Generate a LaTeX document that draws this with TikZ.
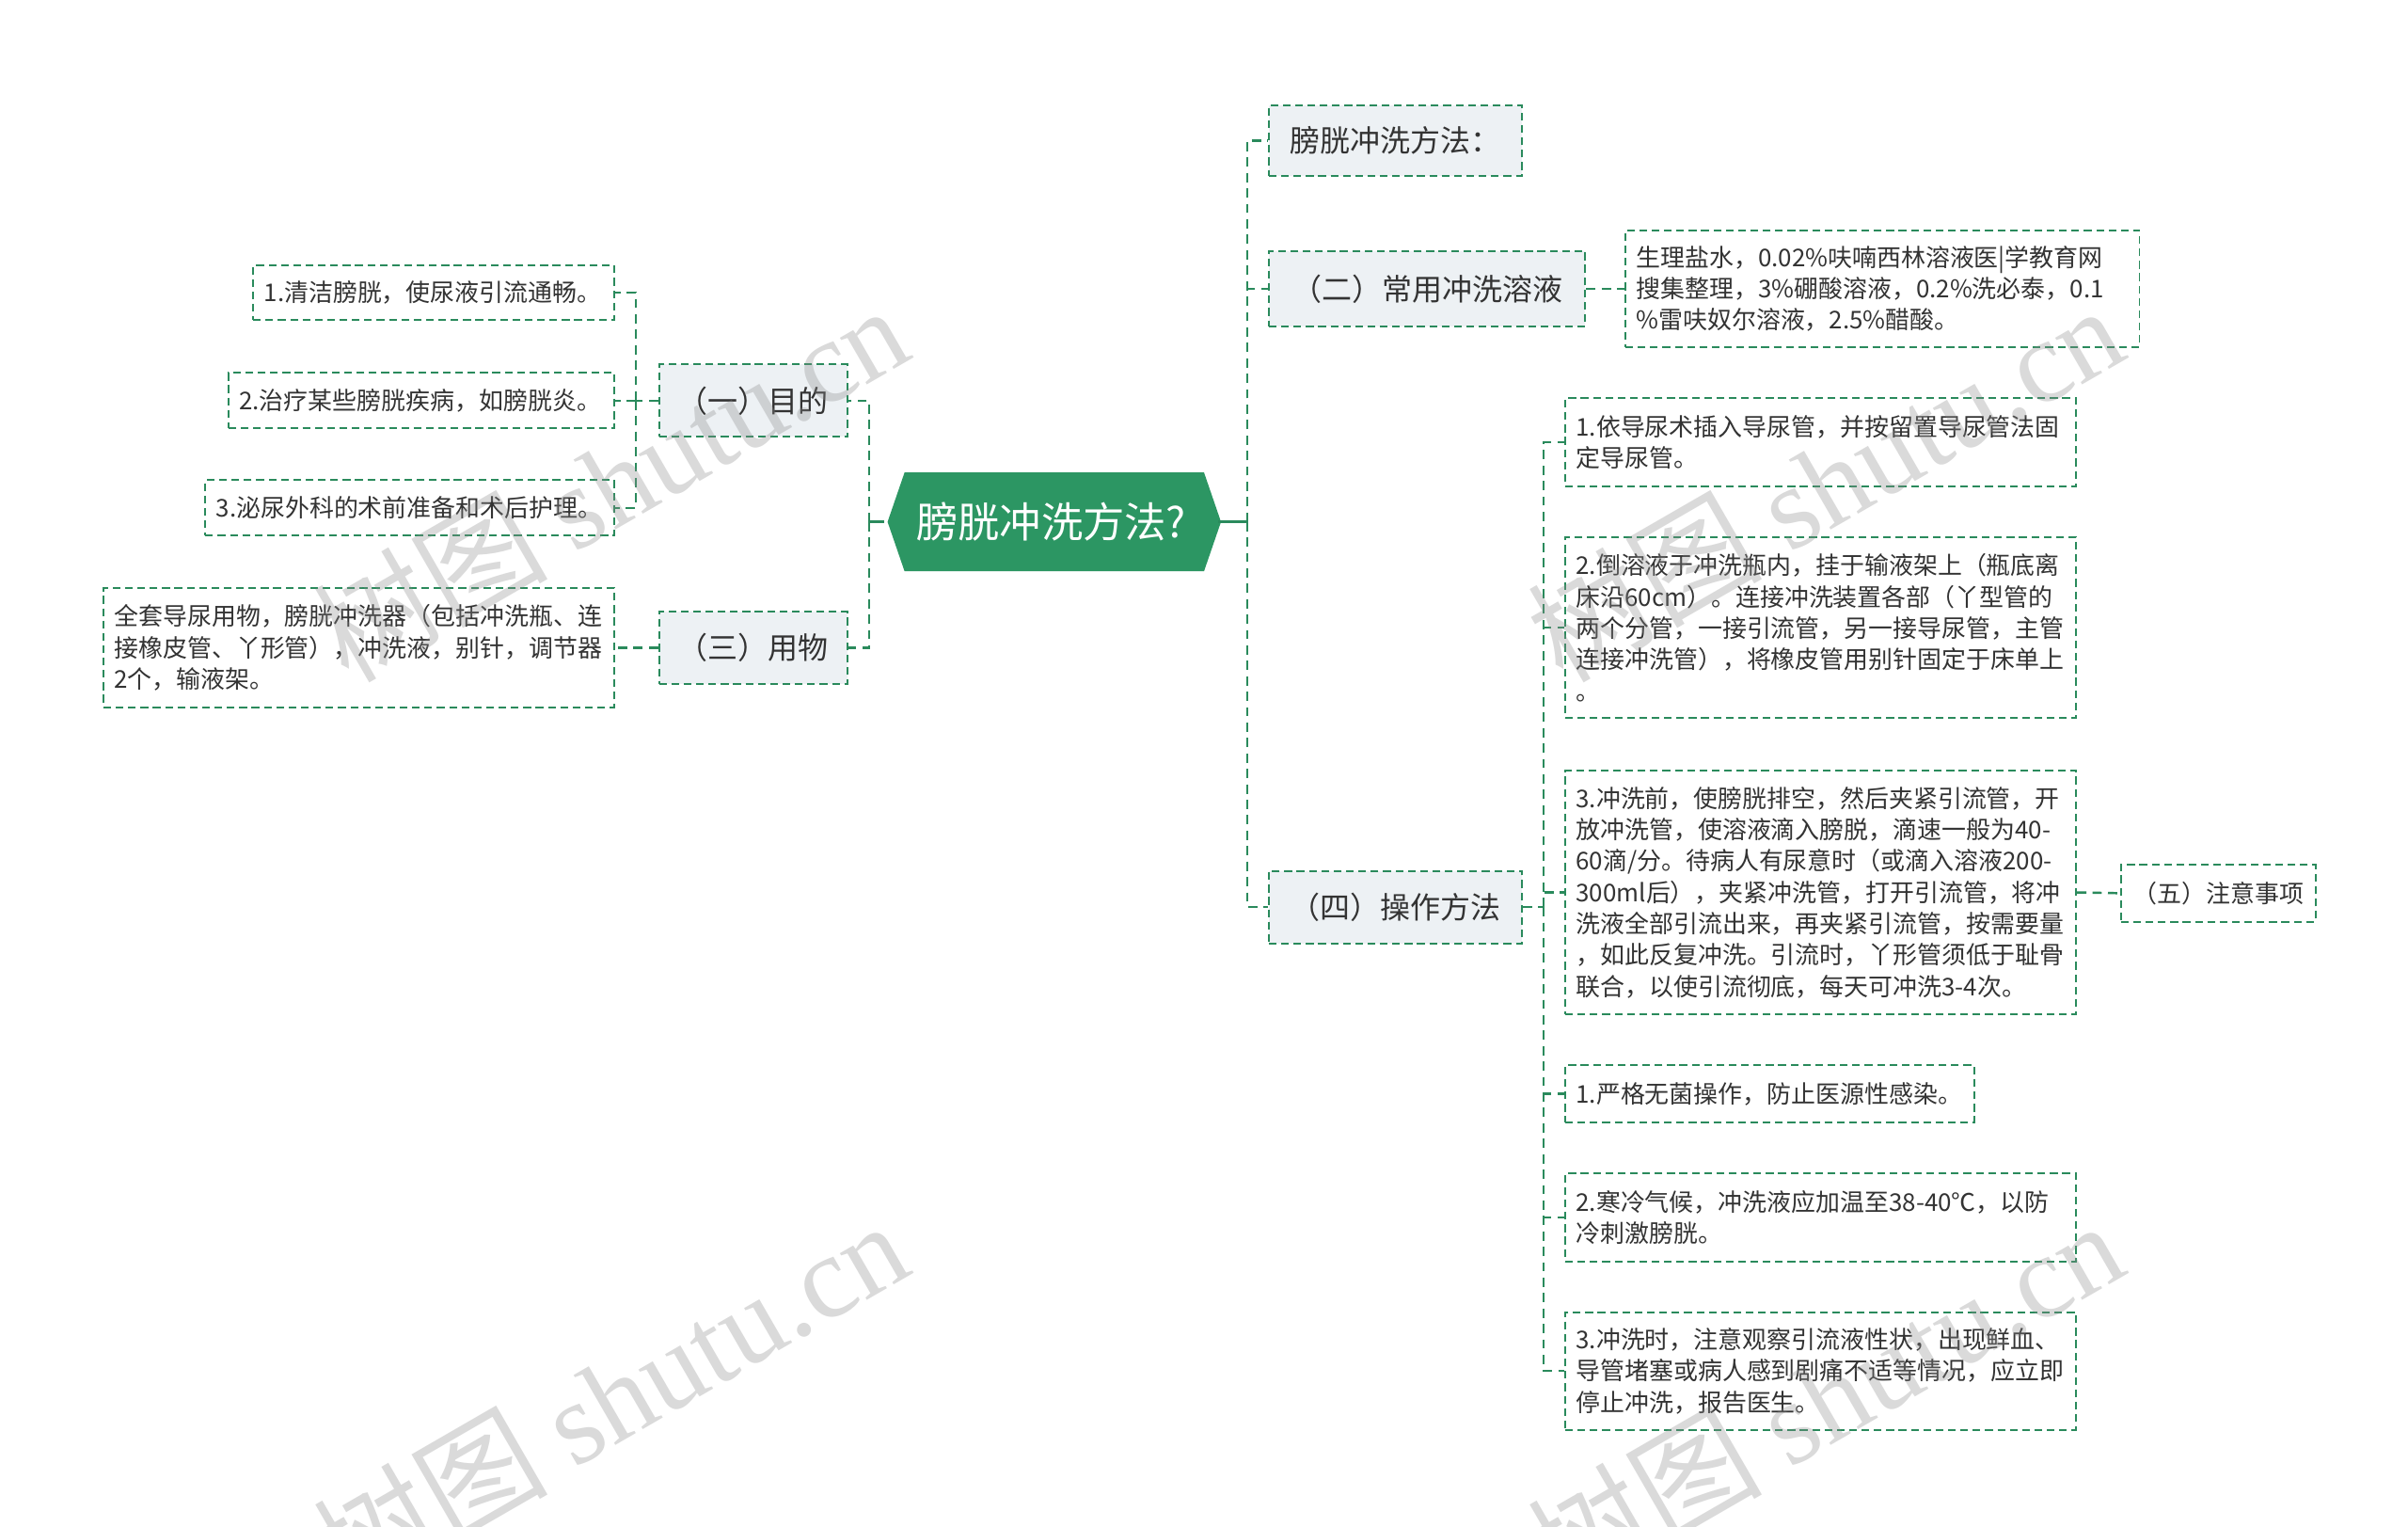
\documentclass[tikz,border=0pt]{standalone}
\usepackage{fontspec}
\setmainfont{Noto Sans CJK SC}
\newfontfamily\wmcjk{Noto Sans CJK SC}
\newfontfamily\wmserif{Liberation Serif}
\definecolor{bd}{HTML}{2A8A5C}
\definecolor{lk}{HTML}{2A8A5C}
\definecolor{rootfill}{HTML}{2C9663}
\definecolor{tp}{HTML}{EDF1F4}
\definecolor{txt}{HTML}{333333}
\tikzset{
  link/.style={draw=lk, line width=1.5pt, dash pattern=on 6pt off 4pt},
  rootlink/.style={draw=lk, line width=1.8pt},
  topic/.style={draw=bd, fill=tp, line width=1.2pt, dash pattern=on 5pt off 3pt,
    font=\fontsize{19.5}{24}\selectfont, text=txt, inner sep=0pt, align=center},
  leaf/.style={draw=bd, fill=white, line width=1.2pt, dash pattern=on 5pt off 3pt,
    font=\fontsize{15.8}{20.3}\selectfont, text=txt, inner xsep=7pt, inner ysep=0pt, align=left},
  wm/.style={text=black!45, opacity=0.32, font=\fontsize{76}{80}\selectfont, inner sep=0pt, rotate=30}
}
\begin{document}
\begin{tikzpicture}[x=1pt,y=-1pt]
\useasboundingbox (0,0) rectangle (1560,989);
\fill[white] (0,0) rectangle (1560,989);

% root
\fill[rootfill] (575,338) -- (586,306) -- (780,306) -- (791,338) -- (780,370) -- (586,370) -- cycle;
\node[minimum width=216pt, minimum height=64pt, inner sep=0pt, text=white,
  font=\fontsize{27}{32}\selectfont] (root) at (681,338) {膀胱冲洗方法?};

% right side topics
\node[topic, minimum width=164pt, minimum height=46pt] (A) at (904,91) {膀胱冲洗方法：};
\node[topic, minimum width=205pt, minimum height=49pt] (B) at (924.5,187) {（二）常用冲洗溶液};
\node[leaf, text width=319pt, minimum height=76pt] (B1) at (1219.5,187)
  {生理盐水，0.02\%呋喃西林溶液医\textbar 学教育网\\搜集整理，3\%硼酸溶液，0.2\%洗必泰，0.1\\\%雷呋奴尔溶液，2.5\%醋酸。};
\node[topic, minimum width=164pt, minimum height=47pt] (D) at (904,587.5) {（四）操作方法};

\node[leaf, text width=317pt, minimum height=57pt] (c1) at (1179.5,286.5)
  {1.依导尿术插入导尿管，并按留置导尿管法固\\定导尿管。};
\node[leaf, text width=317pt, minimum height=117pt] (c2) at (1179.5,406.5)
  {2.倒溶液于冲洗瓶内，挂于输液架上（瓶底离\\床沿60cm）。连接冲洗装置各部（丫型管的\\两个分管，一接引流管，另一接导尿管，主管\\连接冲洗管），将橡皮管用别针固定于床单上\\。};
\node[leaf, text width=317pt, minimum height=158pt] (c3) at (1179.5,578)
  {3.冲洗前，使膀胱排空，然后夹紧引流管，开\\放冲洗管，使溶液滴入膀脱，滴速一般为40-\\60滴/分。待病人有尿意时（或滴入溶液200-\\300ml后），夹紧冲洗管，打开引流管，将冲\\洗液全部引流出来，再夹紧引流管，按需要量\\，如此反复冲洗。引流时，丫形管须低于耻骨\\联合，以使引流彻底，每天可冲洗3-4次。};
\node[leaf, text width=112pt, inner xsep=7pt, minimum height=37pt, align=center] (E) at (1437,578.5)
  {（五）注意事项};
\node[leaf, text width=251pt, minimum height=37pt] (c4) at (1146.5,708.5)
  {1.严格无菌操作，防止医源性感染。};
\node[leaf, text width=317pt, minimum height=57pt] (c5) at (1179.5,788.5)
  {2.寒冷气候，冲洗液应加温至38-40℃，以防\\冷刺激膀胱。};
\node[leaf, text width=317pt, minimum height=76pt] (c6) at (1179.5,888)
  {3.冲洗时，注意观察引流液性状，出现鲜血、\\导管堵塞或病人感到剧痛不适等情况，应立即\\停止冲洗，报告医生。};

% left side
\node[topic, minimum width=122pt, minimum height=47pt] (L1) at (488,259.5) {（一）目的};
\node[topic, minimum width=122pt, minimum height=47pt] (L3) at (488,419.5) {（三）用物};
\node[leaf, text width=220pt, minimum height=35pt] (l1) at (281,189.5) {1.清洁膀胱，使尿液引流通畅。};
\node[leaf, text width=236pt, minimum height=36pt] (l2) at (273,259.5) {2.治疗某些膀胱疾病，如膀胱炎。};
\node[leaf, text width=251pt, minimum height=36pt] (l3) at (265.5,329) {3.泌尿外科的术前准备和术后护理。};
\node[leaf, text width=317pt, minimum height=77pt] (l4) at (232.5,419.5)
  {全套导尿用物，膀胱冲洗器（包括冲洗瓶、连\\接橡皮管、丫形管），冲洗液，别针，调节器\\2个，输液架。};

% junctions
\coordinate (rj) at (808,338);
\coordinate (lj) at (563,338);
\coordinate (dj) at (1000,587.5);
\coordinate (l1j) at (412,259.5);

% connectors
\draw[rootlink] (root.east) -- (rj);
\draw[rootlink] (root.west) -- (lj);
\draw[link] (rj) |- (A.west);
\draw[link] (rj) |- (B.west);
\draw[link] (rj) |- (D.west);
\draw[link] (B.east) -- (B1.west);
\draw[link] (D.east) -- (dj);
\foreach \n in {c1,c2,c3,c4,c5,c6} \draw[link] (dj) |- (\n.west);
\draw[link] (c3.east) -- (E.west);
\draw[link] (lj) |- (L1.east);
\draw[link] (lj) |- (L3.east);
\draw[link] (L1.west) -- (l1j);
\foreach \n in {l1,l2,l3} \draw[link] (l1j) |- (\n.east);
\draw[link] (L3.west) -- (l4.east);

% watermarks
\begin{scope}
\clip (0,0) rectangle (1560,989);
\node[wm] (wm1) at (395,312) {{\wmcjk 树图} {\wmserif shutu.cn}};
\node[wm] (wm2) at (395,905) {{\wmcjk 树图} {\wmserif shutu.cn}};
\node[wm] (wm3) at (1182,312) {{\wmcjk 树图} {\wmserif shutu.cn}};
\node[wm] (wm4) at (1182,905) {{\wmcjk 树图} {\wmserif shutu.cn}};
\end{scope}
\end{tikzpicture}
\end{document}
